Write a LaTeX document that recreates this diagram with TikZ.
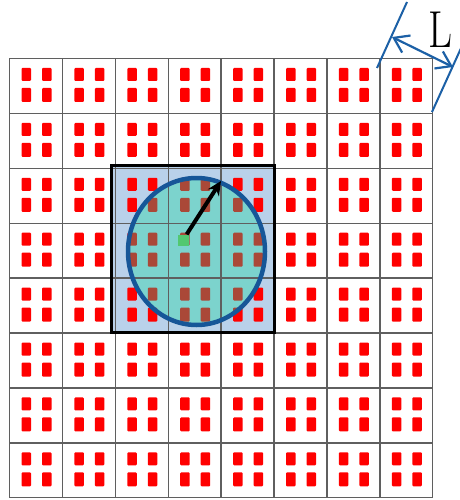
\documentclass[tikz,border=0pt]{standalone}
\usetikzlibrary{arrows.meta}
\begin{document}
\begin{tikzpicture}[x=1pt, y=-1pt,
    pad/.style={rounded corners=1pt}]
    % colours of the picture
    \definecolor{gridline}{RGB}{95,95,95}
    \definecolor{padred}{RGB}{255,0,0}
    \definecolor{padbrown}{RGB}{170,72,56}
    \definecolor{boxblue}{RGB}{185,209,234}
    \definecolor{circteal}{RGB}{124,211,205}
    \definecolor{ringblue}{RGB}{22,86,152}
    \definecolor{dimblue}{RGB}{28,96,166}
    \definecolor{ctrgreen}{RGB}{82,200,112}

    \useasboundingbox (0,0) rectangle (459,500);

    % 1. blue square (3x3 cells)
    \fill[boxblue] (111,165) rectangle (274,332);

    % 2. four red pads in every cell
    \foreach \c in {0,...,7}
      \foreach \r in {0,...,7} {
        \pgfmathsetmacro{\xa}{9.5+52.9*\c}
        \pgfmathsetmacro{\ya}{58.5+54.9*\r}
        \fill[padred, pad] (\xa+12,\ya+9.5) rectangle ++(9.5,13);
        \fill[padred, pad] (\xa+32.5,\ya+9.5) rectangle ++(9.5,13);
        \fill[padred, pad] (\xa+12,\ya+29.5) rectangle ++(9.5,14);
        \fill[padred, pad] (\xa+32.5,\ya+29.5) rectangle ++(9.5,14);
      }

    % 3. circle: teal inside, pads turn brown
    \begin{scope}
      \clip (196.5,251.5) ellipse [x radius=68.5, y radius=73.5];
      \fill[circteal] (111,165) rectangle (274,332);
      \foreach \c in {2,...,4}
        \foreach \r in {2,...,4} {
          \pgfmathsetmacro{\xa}{9.5+52.9*\c}
          \pgfmathsetmacro{\ya}{58.5+54.9*\r}
          \fill[padbrown, pad] (\xa+12,\ya+9.5) rectangle ++(9.5,13);
          \fill[padbrown, pad] (\xa+32.5,\ya+9.5) rectangle ++(9.5,13);
          \fill[padbrown, pad] (\xa+12,\ya+29.5) rectangle ++(9.5,14);
          \fill[padbrown, pad] (\xa+32.5,\ya+29.5) rectangle ++(9.5,14);
        }
    \end{scope}

    % 4. grid
    \foreach \i in {0,...,8} {
      \draw[gridline, line width=1.4pt] ({9.5+52.9*\i},58.5) -- ({9.5+52.9*\i},497.7);
      \draw[gridline, line width=1.4pt] (9.5,{58.5+54.9*\i}) -- (432.7,{58.5+54.9*\i});
    }

    % 5. ring and square border
    \draw[ringblue, line width=4.5pt] (196.5,251.5) ellipse [x radius=68.5, y radius=73.5];
    \draw[black, line width=3pt] (111,165) rectangle (274,332);

    % 6. centre and radius arrow
    \node[fill=ctrgreen, minimum size=11pt, inner sep=0pt] (ctr) at (183,240) {};
    \coordinate (rim) at (221,181);
    \draw[-{Stealth[length=14pt,width=13pt]}, line width=4pt] (ctr) -- (rim);

    % 7. dimension L
    \coordinate (ea) at (377,68);
    \coordinate (eb) at (407,2);
    \coordinate (fa) at (432,112);
    \coordinate (fb) at (462,46);
    \coordinate (da) at (392,37);
    \coordinate (db) at (453,67);
    \draw[dimblue, line width=2pt] (ea) -- (eb);
    \draw[dimblue, line width=2pt] (fa) -- (fb);
    \draw[dimblue, line width=2.2pt,
      {Straight Barb[length=14pt,width=19pt]}-{Straight Barb[length=14pt,width=19pt]}] (da) -- (db);
    \node[font=\fontsize{52}{52}\selectfont, xscale=0.8, inner sep=0pt] (Llab) at (440,30) {L};
\end{tikzpicture}
\end{document}
